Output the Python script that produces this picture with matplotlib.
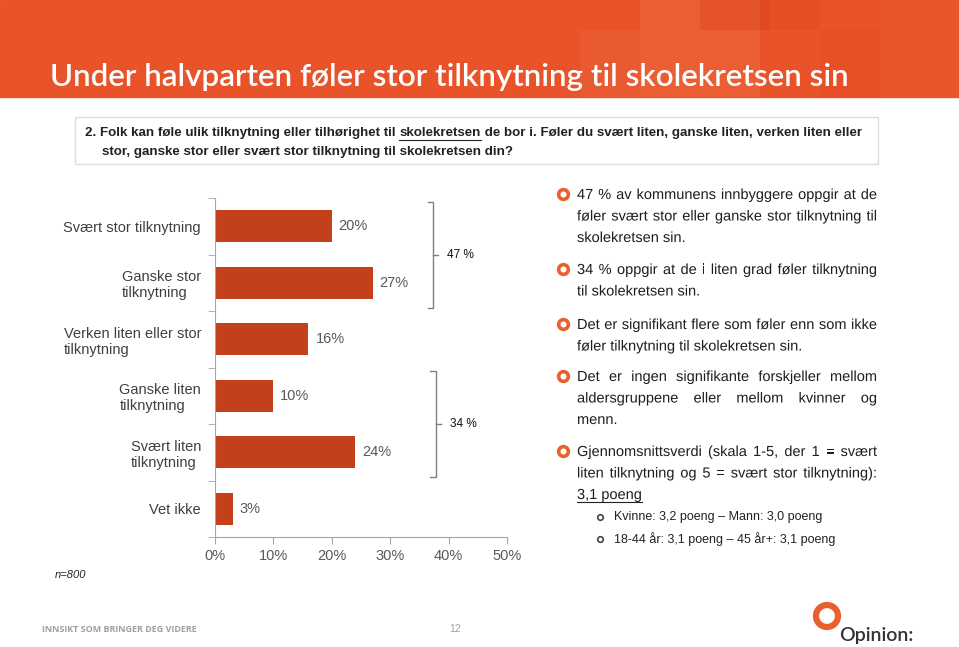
import matplotlib
matplotlib.use("Agg")
import matplotlib.pyplot as plt
from matplotlib.patches import Rectangle, Circle, PathPatch
from matplotlib.textpath import TextPath, text_to_path
from matplotlib.font_manager import FontProperties
from matplotlib.transforms import Affine2D

# data
categories = [
    "Svært stor tilknytning",
    "Ganske stor\ntilknytning",
    "Verken liten eller stor\ntilknytning",
    "Ganske liten\ntilknytning",
    "Svært liten\ntilknytning",
    "Vet ikke",
]
values = [20, 27, 16, 10, 24, 3]
x_ticks = [0, 10, 20, 30, 40, 50]
groups = [(0, 1), (3, 4)]  # bracketed categories (stor / liten)

title = "Under halvparten føler stor tilknytning til skolekretsen sin"
question_pre = "2. Folk kan føle ulik tilknytning eller tilhørighet til "
question_word = "skolekretsen"
question_post = " de bor i. Føler du svært liten, ganske liten, verken liten eller"
question_line2 = "stor, ganske stor eller svært stor tilknytning til skolekretsen din?"

bullets = [
    ["47 % av kommunens innbyggere oppgir at de",
     "føler svært stor eller ganske stor tilknytning til",
     "skolekretsen sin."],
    ["34 % oppgir at de i liten grad føler tilknytning",
     "til skolekretsen sin."],
    ["Det er signifikant flere som føler enn som ikke",
     "føler tilknytning til skolekretsen sin."],
    ["Det er ingen signifikante forskjeller mellom",
     "aldersgruppene eller mellom kvinner og",
     "menn."],
    ["Gjennomsnittsverdi (skala 1-5, der 1 = svært",
     "liten tilknytning og 5 = svært stor tilknytning):",
     "3,1 poeng"],
]
sub_bullets = ["Kvinne: 3,2 poeng – Mann: 3,0 poeng",
               "18-44 år: 3,1 poeng – 45 år+: 3,1 poeng"]

BAR = "#C4401A"
ORANGE = "#E8612C"
GREY = "#595959"

plt.rcParams["font.family"] = ["Liberation Sans", "DejaVu Sans"]

W, H = 959, 647
fig = plt.figure(figsize=(W / 100, H / 100), dpi=100)
bg = fig.add_axes([0, 0, 1, 1])
bg.set_xlim(0, W)
bg.set_ylim(H, 0)
bg.axis("off")
renderer = fig.canvas.get_renderer()


def text_width(s, **kw):
    t = bg.text(0, 0, s, **kw)
    w = t.get_window_extent(renderer).width
    t.remove()
    return w


# header band
bg.add_patch(Rectangle((0, 0), W, 97, color="#E9532A", zorder=0))
for x, y, w, h, c, a in [(640, 0, 120, 97, "#F27A4A", 0.3),
                         (700, 0, 70, 30, "#D9401A", 0.3),
                         (760, 0, 60, 30, "#E04418", 0.25),
                         (820, 30, 60, 67, "#E04418", 0.2),
                         (880, 0, 79, 97, "#F06A38", 0.15),
                         (580, 30, 60, 67, "#F27A4A", 0.2)]:
    bg.add_patch(Rectangle((x, y), w, h, color=c, alpha=a, zorder=0, lw=0))
bg.text(50, 86, title, color="white", fontsize=22.6, fontweight="semibold",
        family=["Lato", "DejaVu Sans"], va="baseline")

# question box
bg.add_patch(Rectangle((75, 117), 803, 47, fill=False, ec="#DDDDDD", lw=1))
qkw = dict(fontsize=9.6, fontweight="bold", color="#222222", va="center")
x0 = 85
bg.text(x0, 133, question_pre, **qkw)
xw = x0 + text_width(question_pre, **qkw)
bg.text(xw, 133, question_word, **qkw)
ww = text_width(question_word, **qkw)
bg.plot([xw, xw + ww], [140, 140], color="#222222", lw=0.8)
bg.text(xw + ww, 133, question_post, **qkw)
bg.text(102, 152, question_line2, **qkw)

# bar chart
ax = fig.add_axes([215 / W, 1 - 537 / H, 292 / W, 339 / H])
y = list(range(len(categories)))
bars = ax.barh(y, values, height=0.57, color=BAR)
ax.bar_label(bars, labels=[f"{v}%" for v in values], padding=5,
             fontsize=10.5, color=GREY)
ax.set_xlim(0, 50)
ax.set_ylim(len(categories) - 0.5, -0.5)
ax.set_xticks(x_ticks)
ax.set_xticklabels([f"{t}%" for t in x_ticks])
ax.set_yticks(y)
ax.set_yticklabels(categories, fontsize=10.5, color="#404040",
                   multialignment="left")
ax.set_yticks([i - 0.5 for i in range(len(categories) + 1)], minor=True)
ax.tick_params(axis="y", which="major", length=0, pad=10)
ax.tick_params(axis="y", which="minor", length=5, color="#A6A6A6")
ax.tick_params(axis="x", length=5, color="#A6A6A6", labelsize=10.5,
               labelcolor=GREY, pad=4)
for s in ["top", "right"]:
    ax.spines[s].set_visible(False)
for s in ["left", "bottom"]:
    ax.spines[s].set_color("#A6A6A6")
ax.set_facecolor("none")

# brackets
for (a, b), bx in zip(groups, [37.3, 37.8]):
    top, bot = a - 0.43, b + 0.44
    mid = (top + bot) / 2
    ax.plot([bx - 0.9, bx, bx, bx - 0.9], [top, top, bot, bot],
            color="#808080", lw=1, clip_on=False)
    ax.plot([bx, bx + 0.9], [mid, mid], color="#808080", lw=1, clip_on=False)
    total = values[a] + values[b]
    ax.text(bx + 2.4, mid, f"{total} %", fontsize=8.5, color="#111111",
            va="center", clip_on=False)

# right-hand text, justified; words drawn as paths so baselines line up
SIZE_PX = 10.5 * 100 / 72
fp = FontProperties(family="Liberation Sans", size=SIZE_PX)
TX0, TX1 = 577, 877
line_y = [[194, 215.5, 237], [269, 290.5], [324, 345.5], [376, 397.5, 419],
          [451, 472.5, 494]]


def adv(s):
    return text_to_path.get_text_width_height_descent(s, fp, ismath=False)[0]


space = adv("a a") - adv("aa")


def draw_line(line, yy, justify, x0=TX0, x1=TX1):
    words = line.split(" ")
    widths = [adv(w) for w in words]
    if justify and len(words) > 1:
        gap = (x1 - x0 - sum(widths)) / (len(words) - 1)
    else:
        gap = space
    x = x0
    base = yy + 5
    for w, wd in zip(words, widths):
        p = TextPath((0, 0), w, size=SIZE_PX, prop=fp)
        tr = Affine2D().scale(1, -1).translate(x, base) + bg.transData
        bg.add_patch(PathPatch(p, transform=tr, fc="#1E1E1E", lw=0))
        x += wd + gap
    return x - gap


for para, ys in zip(bullets, line_y):
    bg.plot(563, ys[0], "o", ms=7, mfc="white", mec=ORANGE, mew=2.6)
    for i, (line, yy) in enumerate(zip(para, ys)):
        last = i == len(para) - 1
        end = draw_line(line, yy, not last)
    if para[-1] == "3,1 poeng":
        bg.plot([TX0, end], [ys[-1] + 8, ys[-1] + 8], color="#222222", lw=0.8)

skw = dict(fontsize=9, color="#222222", va="center")
for sb, yy in zip(sub_bullets, [517, 539]):
    bg.plot(600, yy, "o", ms=4, mfc="white", mec="#444444", mew=1.2)
    bg.text(614, yy, sb, **skw)

# footer
bg.text(55, 575, "n=800", fontsize=8, style="italic", color="#222222",
        va="center")
bg.text(42, 629, "INNSIKT SOM BRINGER DEG VIDERE", fontsize=6.5,
        color="#A0A0A0", va="center", fontweight="bold",
        family=["Open Sans", "DejaVu Sans"])
bg.text(455, 629, "12", fontsize=7.5, color="#A0A0A0", va="center",
        ha="center")
bg.add_patch(Circle((827, 616), 11, fill=False, ec=ORANGE, lw=4.5))
bg.text(839, 636, "Opinion:", fontsize=14, color="#333333", va="center",
        family=["Lato", "DejaVu Sans"], fontweight="semibold")

fig.savefig("out.png", dpi=100)
